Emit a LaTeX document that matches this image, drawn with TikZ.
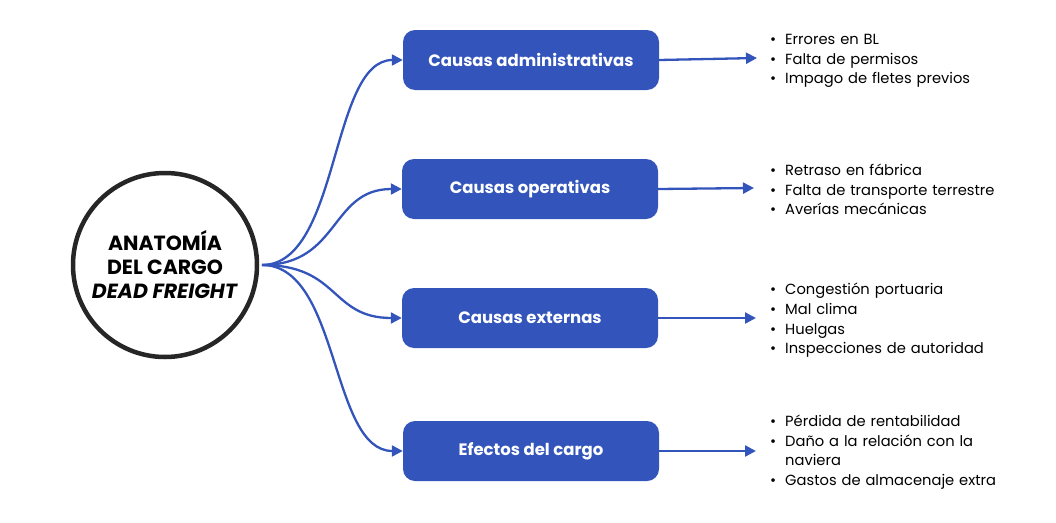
\documentclass[tikz,border=0pt]{standalone}
\usepackage{fontspec}
\setmainfont{Poppins}
\usetikzlibrary{arrows.meta}
\definecolor{bx}{HTML}{3355BB}
\newcommand{\bl}[1]{\hyphenpenalty=10000\exhyphenpenalty=10000\hangindent=15pt\hangafter=1\makebox[15pt][l]{\textbullet}#1\par}
\begin{document}
\begin{tikzpicture}[x=1pt,y=-1pt,
 box/.style={fill=bx,rounded corners=12pt,minimum width=256pt,minimum height=60pt,text=white,font=\fontsize{16.5}{19}\selectfont\bfseries},
 con/.style={draw=bx,line width=2.3pt,-{Triangle[length=11pt,width=11pt]}},
 lst/.style={anchor=north west,align=left,font=\fontsize{14.7}{19.6}\selectfont,text width=230pt,inner sep=0pt}]
\useasboundingbox (0,0) rectangle (1056,522);
\node[circle,draw=black!85,line width=4.5pt,minimum size=184pt,align=center,font=\fontsize{20.5}{24}\selectfont\bfseries] (c) at (165,265) {ANATOMÍA\\DEL CARGO\\\textit{DEAD FREIGHT}};
\coordinate (s) at (262,265);
\node[box] (a) at (531,60) {Causas administrativas};
\node[box] (o) at (530,189) {Causas operativas};
\node[box] (e) at (530,318) {Causas externas};
\node[box] (f) at (531,451) {Efectos del cargo};
\foreach \n/\y in {a/60,o/189,e/318,f/451}{
 \draw[con] (s) .. controls (340,265) and (330,\y) .. (\n.west);
}
\coordinate (ta) at (757,58);\coordinate (to) at (754,188);\coordinate (te) at (756,318);\coordinate (tf) at (756,451);
\draw[con] (a.east) -- (ta);
\draw[con] (o.east) -- (to);
\draw[con] (e.east) -- (te);
\draw[con] (f.east) -- (tf);
\node[lst] (la) at (770,34) {\bl{Errores en BL}\bl{Falta de permisos}\bl{Impago de fletes previos}};
\node[lst] (lo) at (770,164) {\bl{Retraso en fábrica}\bl{Falta de transporte terrestre}\bl{Averías mecánicas}};
\node[lst] (le) at (770,283) {\bl{Congestión portuaria}\bl{Mal clima}\bl{Huelgas}\bl{Inspecciones de autoridad}};
\node[lst] (lf) at (770,415) {\bl{Pérdida de rentabilidad}\bl{Daño a la relación con la naviera}\bl{Gastos de almacenaje extra}};
\end{tikzpicture}
\end{document}
